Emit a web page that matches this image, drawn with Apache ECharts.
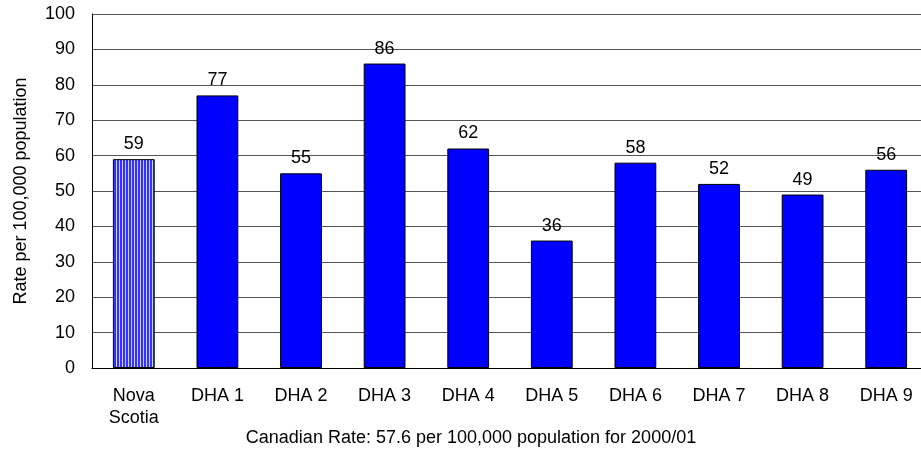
<!DOCTYPE html>
<html><head><meta charset="utf-8">
<script src="https://cdn.jsdelivr.net/npm/echarts@6/dist/echarts.min.js"></script>
<style>html,body{margin:0;padding:0;background:#fff}#c{width:921px;height:449px}</style>
</head><body><div id="c"></div>
<script>
const categories = ['Nova\nScotia','DHA 1','DHA 2','DHA 3','DHA 4','DHA 5','DHA 6','DHA 7','DHA 8','DHA 9'];
const rates = [59,77,55,86,62,36,58,52,49,56];
const yTicks = {min:0, max:100, interval:10};
const yTitle = 'Rate per 100,000 population';
const footnote = 'Canadian Rate: 57.6 per 100,000 population for 2000/01';

const pc = document.createElement('canvas');
pc.width = 3; pc.height = 4;
const g = pc.getContext('2d');
g.fillStyle = '#ccccff'; g.fillRect(0,0,3,4);
g.fillStyle = '#3333ff'; g.fillRect(0,0,2,4);

const font = 'Liberation Sans, Arial, sans-serif';
const chart = echarts.init(document.getElementById('c'));
chart.setOption({
  animation:false,
  textStyle:{fontFamily:font},
  grid:{left:92, width:836, top:14, height:354, outerBoundsMode:'none', containLabel:false},
  title:{text:footnote, left:466, top:424, textAlign:'center',
    textStyle:{fontSize:18, fontWeight:'normal', color:'#000', fontFamily:font}},
  xAxis:{type:'category', data:categories,
    axisLine:{lineStyle:{color:'#000', width:1}}, axisTick:{show:false},
    axisLabel:{color:'#000', fontSize:18, margin:17, lineHeight:22, fontFamily:font, interval:0}},
  yAxis:{type:'value', min:yTicks.min, max:yTicks.max, interval:yTicks.interval,
    name:yTitle, nameLocation:'middle', nameGap:62, nameRotate:90,
    nameTextStyle:{color:'#000', fontSize:18, fontFamily:font},
    axisLine:{show:true, lineStyle:{color:'#000'}}, axisTick:{show:false},
    axisLabel:{color:'#000', fontSize:18, margin:17, fontFamily:font},
    splitLine:{lineStyle:{color:'#555', width:1}}},
  series:[{type:'bar', barWidth:'50%',
    data:rates.map((v,i)=>({value:v, itemStyle: i===0 ? {color:{image:pc, repeat:'repeat'}} : {}})),
    itemStyle:{color:'#0000ff', borderColor:'#000', borderWidth:1},
    label:{show:true, position:'top', color:'#000', fontSize:18, distance:6, fontFamily:font}}]
});
</script></body></html>
